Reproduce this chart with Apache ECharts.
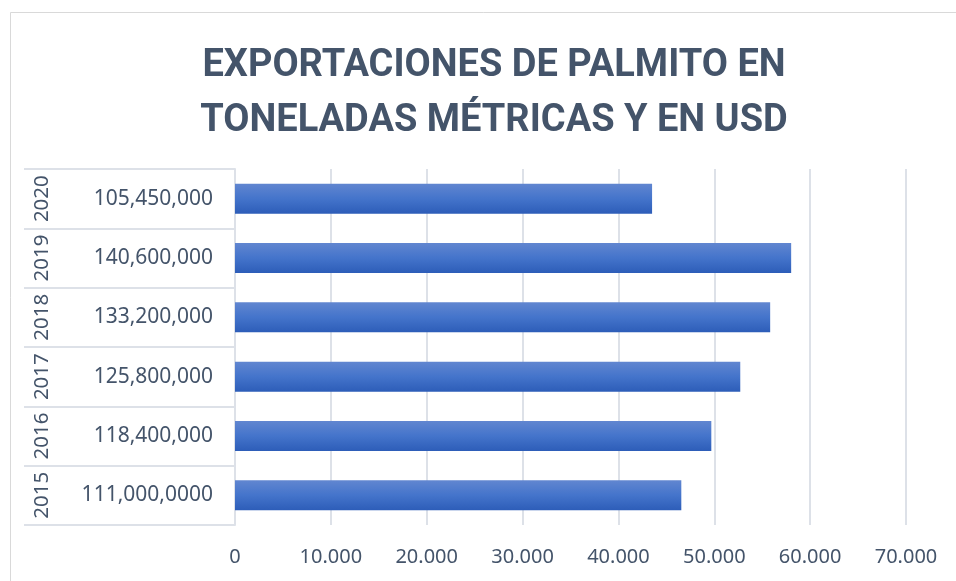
<!DOCTYPE html>
<html><head><meta charset="utf-8">
<script src="https://cdn.jsdelivr.net/npm/echarts@6/dist/echarts.min.js"></script>
<style>html,body{margin:0;padding:0;background:#fff;}#c{width:956px;height:581px;}</style>
</head><body><div id="c"></div>
<script>
var years = ['2015','2016','2017','2018','2019','2020'];
var usdLabels = ['111,000,0000','118,400,000','125,800,000','133,200,000','140,600,000','105,450,000'];
var tonnes = [46560, 49690, 52710, 55830, 58020, 43510];
var xTicks = [0, 10000, 20000, 30000, 40000, 50000, 60000, 70000];

var txt = '#44546a', line = '#dde1e8';
var FONT = 'Noto Sans';
var chart = echarts.init(document.getElementById('c'), null, {renderer:'canvas'});
chart.setOption({
  animation:false,
  backgroundColor:'#fff',
  graphic:[{type:'rect', shape:{x:10.5,y:12.5,width:1000,height:700}, style:{fill:'none', stroke:'#d9d9d9', lineWidth:1}, silent:true}],
  title:{
    text:'EXPORTACIONES DE PALMITO EN\nTONELADAS MÉTRICAS Y EN USD',
    left:489, textAlign:'center', top:34,
    textStyle:{fontFamily:'Roboto', fontWeight:'bold', fontSize:38, lineHeight:55, color:txt}
  },
  grid:{left:235, right:50, top:169, bottom:56, containLabel:false},
  xAxis:{
    type:'value', min:xTicks[0], max:xTicks[xTicks.length-1], interval:10000,
    axisLine:{show:false}, axisTick:{show:false},
    splitLine:{show:true, lineStyle:{color:line, width:2}},
    axisLabel:{margin:22, fontFamily:FONT, fontSize:20, color:txt,
      formatter:function(v){ return v===0?'0':String(v).replace(/\B(?=(\d{3})+(?!\d))/g,'.'); }}
  },
  yAxis:[{
    type:'category', data:usdLabels, position:'left',
    axisLine:{show:true, lineStyle:{color:line, width:2}},
    axisTick:{show:true, length:211, lineStyle:{color:line, width:2}},
    axisLabel:{margin:22, fontFamily:FONT, fontSize:21, color:txt}
  },{
    type:'category', data:years, position:'left', offset:193,
    axisLine:{show:false}, axisTick:{show:false},
    axisLabel:{interval:0, rotate:90, margin:0, fontFamily:FONT, fontSize:20.5, color:txt, align:'center', verticalAlign:'middle'}
  }],
  series:[{
    type:'bar', data:tonnes, yAxisIndex:0, barWidth:30,
    itemStyle:{color:new echarts.graphic.LinearGradient(0,0,0,1,[{offset:0,color:'#6186d0'},{offset:0.5,color:'#4474cb'},{offset:1,color:'#2d5db8'}])}
  }]
});
</script></body></html>
